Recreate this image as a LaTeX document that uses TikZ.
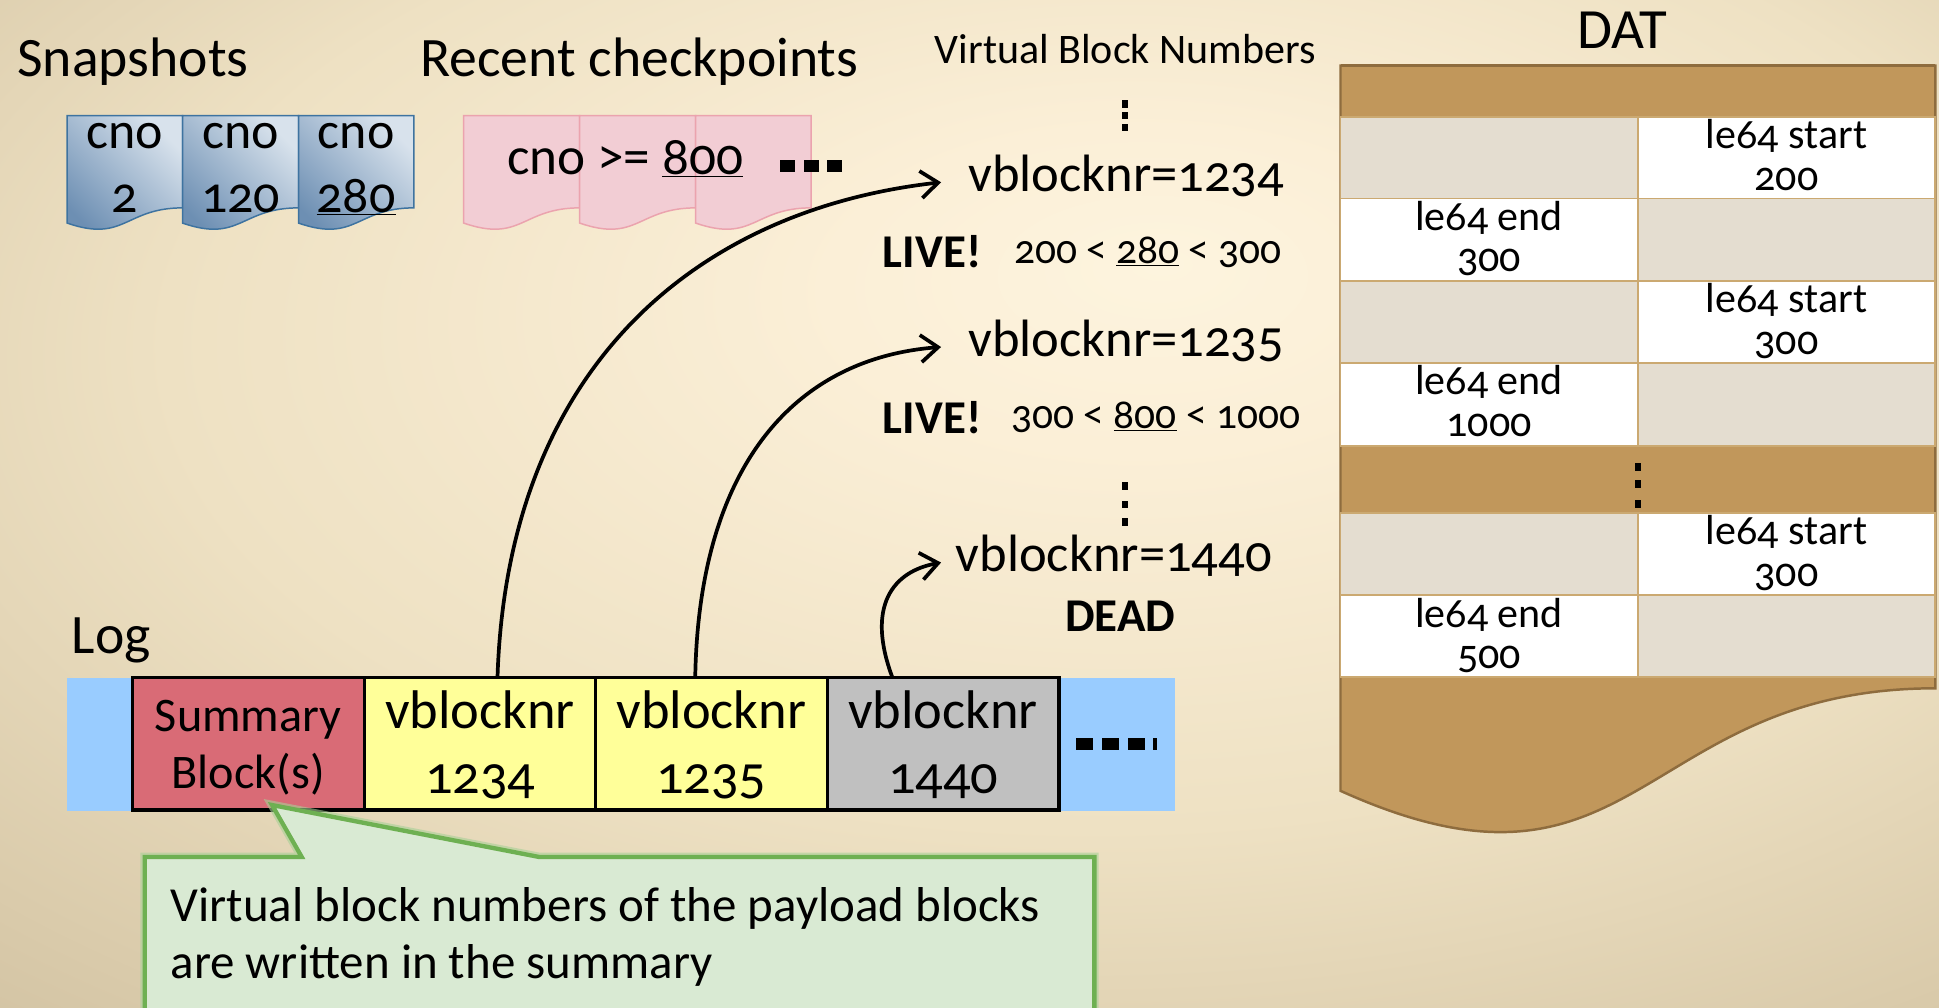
\documentclass[tikz,border=0pt]{standalone}
\usepackage{fontspec}
\setmainfont{Carlito}[Numbers=OldStyle]
\usetikzlibrary{arrows.meta}
\definecolor{bgA}{HTML}{FDF4DE}
\definecolor{bgA2}{HTML}{FBEFD7}
\definecolor{bgB}{HTML}{EEE1C3}
\definecolor{bgC}{HTML}{DACBAB}
\definecolor{bgC2}{HTML}{C4B494}
\definecolor{bgD}{HTML}{B09F7F}
\definecolor{docdark}{HTML}{6D8FB3}
\definecolor{doclight}{HTML}{D8E2EC}
\definecolor{docedge}{HTML}{3E73A0}
\definecolor{pinkfill}{HTML}{F2CDD4}
\definecolor{pinkedge}{HTML}{EBA3AE}
\definecolor{logblue}{HTML}{99CCFF}
\definecolor{sumred}{HTML}{D96B76}
\definecolor{blkyellow}{HTML}{FFFF99}
\definecolor{blkgray}{HTML}{C0C0C0}
\definecolor{datbrown}{HTML}{C1975B}
\definecolor{datedge}{HTML}{8E6C3E}
\definecolor{cellbeige}{HTML}{E4DDD0}
\definecolor{cellline}{HTML}{CBA971}
\definecolor{callfill}{HTML}{D9EAD3}
\definecolor{calledge}{HTML}{6EB052}
\pgfdeclareradialshading{bgshade}{\pgfpoint{5bp}{12bp}}{color(0bp)=(bgA); color(8bp)=(bgA2); color(24bp)=(bgB); color(37bp)=(bgC); color(50bp)=(bgC2); color(70bp)=(bgD)}
\newcommand\fsTitle{\fontsize{45}{54}\selectfont}
\newcommand\fsCno{\fontsize{42}{50}\selectfont}
\newcommand\fsVbn{\fontsize{34}{40}\selectfont}
\newcommand\fsVb{\fontsize{42.5}{50}\selectfont}
\newcommand\fsLive{\fontsize{38}{44}\selectfont\bfseries}
\newcommand\fsCmp{\fontsize{33.5}{40}\selectfont}
\newcommand\fsBlk{\fontsize{44}{52}\selectfont}
\newcommand\fsSum{\fontsize{39}{46}\selectfont}
\newcommand\fsCall{\fontsize{39.6}{46}\selectfont}
\newcommand\fsCell{\fontsize{34}{40}\selectfont}
\newcommand\docshape[4]{\path[#4] (#1,#2) -- (#1+#3,#2) -- (#1+#3,#2+74.6) .. controls (#1+#3/2,#2+74.6) and (#1+#3/2,#2+103) .. (#1,#2+86.9) -- cycle;}
\tikzset{
  t/.style={inner sep=0pt, outer sep=0pt, anchor=base},
  bluedoc/.style={top color=doclight, bottom color=docdark, shading angle=-45, draw=docedge, line width=1.2},
  pinkdoc/.style={fill=pinkfill, draw=pinkedge, line width=1.2},
  blk/.style={draw=black, line width=2.5, minimum width=187.4pt, minimum height=107pt, inner sep=0pt, outer sep=0pt, anchor=north west},
  cell/.style={draw=cellline, line width=1.5},
  arr/.style={line width=3, -{Straight Barb[length=14pt,width=22pt]}},
  vb/.style={inner ysep=0pt, outer sep=0pt, anchor=base west, font=\fsVb}
}
\begin{document}
\begin{tikzpicture}[x=1pt,y=-1pt]
\useasboundingbox (0,0) rectangle (1568,815);
\clip (0,0) rectangle (1568,815);
\shade[shading=bgshade] (0,0) rectangle (1568,815);

% titles
\node[t, anchor=base west, font=\fsTitle] (snap) at (14,61.5) {Snapshots};
\node[t, anchor=base west, font=\fsTitle] (rcp) at (340,61.5) {Recent checkpoints};
\node[t, font=\fsVbn] (vbn) at (910,51) {Virtual Block Numbers};
\node[t, font=\fontsize{46}{54}\selectfont] (dat) at (1312,39) {DAT};

% snapshot docs
\docshape{54.3}{93.5}{93.3}{bluedoc}
\docshape{147.6}{93.5}{93.8}{bluedoc}
\docshape{241.4}{93.5}{93.3}{bluedoc}
\node[t, font=\fsCno] (s1a) at (101,120) {cno};
\node[t, font=\fsCno] (s1b) at (101,171.7) {2};
\node[t, font=\fsCno] (s2a) at (194.5,120) {cno};
\node[t, font=\fsCno] (s2b) at (194.5,171.7) {120};
\node[t, font=\fsCno] (s3a) at (288,120) {cno};
\node[t, font=\fsCno] (s3b) at (288,171.7) {\underline{280}};

% checkpoint docs
\docshape{375}{93.5}{93.8}{pinkdoc}
\docshape{468.8}{93.5}{93.8}{pinkdoc}
\docshape{562.6}{93.5}{93.3}{pinkdoc}
\node[t, anchor=base west, font=\fontsize{43}{50}\selectfont] (cp) at (410,141) {cno >= \underline{800}};
\fill (631,129) rectangle ++(12,10);
\fill (650,129) rectangle ++(12,10);
\fill (669,129) rectangle ++(12,10);

% virtual block numbers
\fill (907.5,81) rectangle ++(5,6);
\fill (907.5,90.5) rectangle ++(5,6);
\fill (907.5,100) rectangle ++(5,6);
\node[vb, inner xsep=22pt] (v1234) at (761,155) {vblocknr=1234};
\node[t, anchor=base west, font=\fsLive] (live1) at (714,216.5) {LIVE!};
\node[t, anchor=base west, font=\fsCmp] (cmp1) at (820,213) {200 < \underline{280} < 300};
\node[vb, inner xsep=22pt] (v1235) at (761,288.4) {vblocknr=1235};
\node[t, anchor=base west, font=\fsLive] (live2) at (714,350.4) {LIVE!};
\node[t, anchor=base west, font=\fsCmp] (cmp2) at (818,346.4) {300 < \underline{800} < 1000};
\fill (907.5,390) rectangle ++(5,6);
\fill (907.5,405) rectangle ++(5,6);
\fill (907.5,419) rectangle ++(5,6);
\node[vb, inner xsep=12pt] (v1440) at (761,462.3) {vblocknr=1440};
\node[t, font=\fsLive] (dead) at (906,510.8) {DEAD};

% DAT
\path[fill=datbrown, draw=datedge, line width=2] (1084,53) -- (1565,53) -- (1565,556.6) .. controls (1324.5,556.6) and (1324.5,748.2) .. (1084,639.5) -- cycle;
\draw[datedge, line width=3] (1084,53) -- (1565,53);
\draw[cell, fill=cellbeige] (1084,94.3) rectangle (1324.4,160.5);
\draw[cell, fill=white] (1324.4,94.3) rectangle (1565,160.5);
\draw[cell, fill=white] (1084,160.5) rectangle (1324.4,227.2);
\draw[cell, fill=cellbeige] (1324.4,160.5) rectangle (1565,227.2);
\draw[cell, fill=cellbeige] (1084,227.2) rectangle (1324.4,293.8);
\draw[cell, fill=white] (1324.4,227.2) rectangle (1565,293.8);
\draw[cell, fill=white] (1084,293.8) rectangle (1324.4,360.7);
\draw[cell, fill=cellbeige] (1324.4,293.8) rectangle (1565,360.7);
\draw[cell, fill=cellbeige] (1084,414.6) rectangle (1324.4,481.2);
\draw[cell, fill=white] (1324.4,414.6) rectangle (1565,481.2);
\draw[cell, fill=white] (1084,481.2) rectangle (1324.4,547.7);
\draw[cell, fill=cellbeige] (1324.4,481.2) rectangle (1565,547.7);
\node[t, font=\fsCell] (d1a) at (1444.7,120) {le64 start};
\node[t, font=\fsCell] (d1b) at (1444.7,153.7) {200};
\node[t, font=\fsCell] (d2a) at (1204.2,186.1) {le64 end};
\node[t, font=\fsCell] (d2b) at (1204.2,219.8) {300};
\node[t, font=\fsCell] (d3a) at (1444.7,252.8) {le64 start};
\node[t, font=\fsCell] (d3b) at (1444.7,286.5) {300};
\node[t, font=\fsCell] (d4a) at (1204.2,319.4) {le64 end};
\node[t, font=\fsCell] (d4b) at (1204.2,353.1) {1000};
\node[t, font=\fsCell] (d5a) at (1444.7,440.5) {le64 start};
\node[t, font=\fsCell] (d5b) at (1444.7,474.2) {300};
\node[t, font=\fsCell] (d6a) at (1204.2,507.1) {le64 end};
\node[t, font=\fsCell] (d6b) at (1204.2,540.8) {500};
\fill (1322,374) rectangle ++(5,6.5);
\fill (1322,388) rectangle ++(5,6.5);
\fill (1322,404.5) rectangle ++(5,6.5);

% log
\node[t, anchor=base west, font=\fsTitle] (log) at (58,528.3) {Log};
\node[fill=logblue, minimum width=896pt, minimum height=107pt, inner sep=0pt, outer sep=0pt, anchor=north west] (logbar) at (53.8,548.5) {};
\node[blk, fill=sumred] (bsum) at (107,548) {};
\node[blk, fill=blkyellow] (b1234) at (294.6,548) {};
\node[blk, fill=blkyellow] (b1235) at (481.5,548) {};
\node[blk, fill=blkgray] (b1440) at (669,548) {};
\node[t, font=\fsSum] (sumA) at (bsum.center |- 0,591.5) {Summary};
\node[t, font=\fsSum] (sumB) at (bsum.center |- 0,637.5) {Block(s)};
\node[t, font=\fsBlk] (l1a) at (b1234.center |- 0,589) {vblocknr};
\node[t, font=\fsBlk] (l1b) at (b1234.center |- 0,641.5) {1234};
\node[t, font=\fsBlk] (l2a) at (b1235.center |- 0,589) {vblocknr};
\node[t, font=\fsBlk] (l2b) at (b1235.center |- 0,641.5) {1235};
\node[t, font=\fsBlk] (l3a) at (b1440.center |- 0,589) {vblocknr};
\node[t, font=\fsBlk] (l3b) at (b1440.center |- 0,641.5) {1440};
\fill (870,597) rectangle ++(14,9.5);
\fill (891,597) rectangle ++(14,9.5);
\fill (912,597) rectangle ++(14,9.5);
\fill (932,597) rectangle ++(4,9.5);

% arrows
\draw[arr] ([xshift=14pt]b1234.north) .. controls (410,300) and (560,170) .. ([yshift=7.6pt]v1234.base west);
\draw[arr] ([xshift=-13pt]b1235.north) .. controls (565,380) and (640,290) .. ([yshift=7.8pt]v1235.base west);
\draw[arr] ([xshift=-41pt]b1440.north) .. controls (700,490) and (722,462) .. ([yshift=7.4pt]v1440.base west);

% callout
\path[draw=calledge!60, line width=7, opacity=0.6] (117,693) -- (244,693) -- (220,651) -- (436,693) -- (885,693) -- (885,840) -- (117,840) -- cycle;
\path[fill=callfill, draw=calledge, line width=3.5] (117,693) -- (244,693) -- (220,651) -- (436,693) -- (885,693) -- (885,840) -- (117,840) -- cycle;
\node[t, anchor=base west, font=\fsCall] (c1) at (138,745.3) {Virtual block numbers of the payload blocks};
\node[t, anchor=base west, font=\fsCall] (c2) at (138,791) {are written in the summary};
\end{tikzpicture}
\end{document}
